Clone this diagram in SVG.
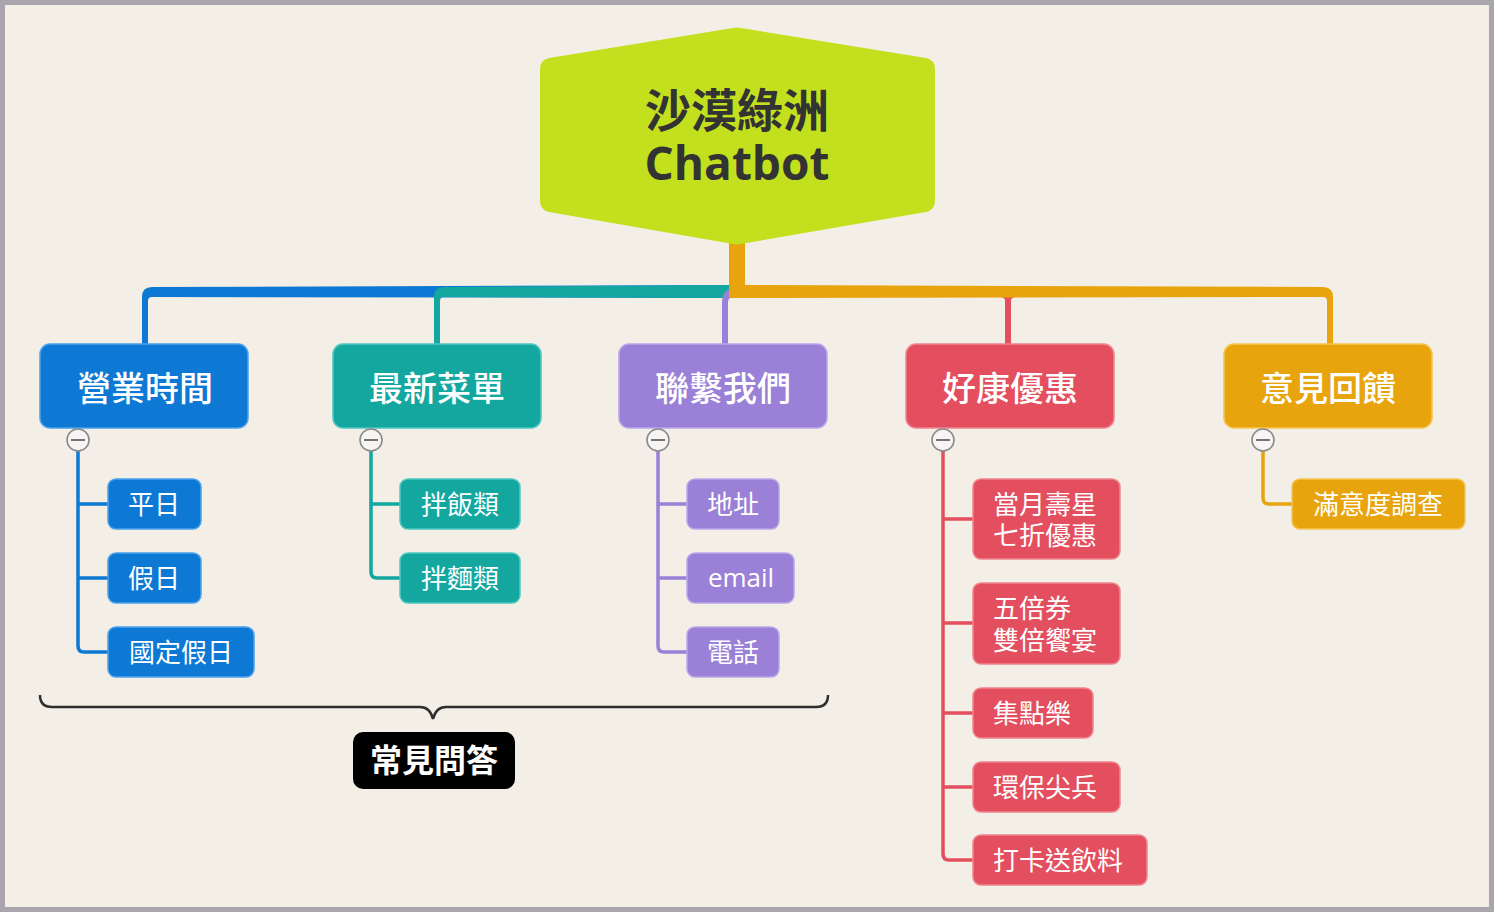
<svg xmlns="http://www.w3.org/2000/svg" width="1494" height="912" viewBox="0 0 1494 912">
<defs>
<style>
.cjk{font-family:"Noto Sans CJK TC","Noto Sans CJK SC",sans-serif;fill:#fff}
.l1{font-size:34px;text-anchor:middle;font-weight:500}
.l2{font-size:26px}
.mid{text-anchor:middle}
.blue{fill:#0d79d5;stroke:#4aa3ec;stroke-width:1.5}
.teal{fill:#14a7a0;stroke:#4ec8c1;stroke-width:1.5}
.purple{fill:#9a80d6;stroke:#b9a6ea;stroke-width:1.5}
.red{fill:#e34f5e;stroke:#f08590;stroke-width:1.5}
.orange{fill:#e8a40d;stroke:#f5c552;stroke-width:1.5}
.sub{fill:none;stroke-width:3.5;stroke-linejoin:round}
.btn circle{fill:#f6f5f3;stroke:#8a8a8f;stroke-width:1.6}
.btn line{stroke:#666;stroke-width:1.8}
</style>
</defs>
<rect x="0" y="0" width="1494" height="912" fill="#f3efe7"/>
<rect x="2.5" y="2.5" width="1489" height="907" fill="none" stroke="#aaa4ad" stroke-width="5"/>

<g id="connectors">
  <path d="M737 285 L152 287 Q142 287 142 297 L142 344 L148 344 L148 301 Q148 297 152 297 L737 298 Z" fill="#0d79d5"/>
  <path d="M737 285 L444 287 Q434 287 434 297 L434 344 L440 344 L440 301 Q440 297 444 297 L737 298 Z" fill="#14a7a0"/>
  <path d="M722 344 L722 302 Q722 292 731 288 L731 298 Q728 298 728 303 L728 344 Z" fill="#9a80d6"/>
  <path d="M1005 344 L1005 301 Q1005 297 1000 297 L1016 297 Q1011 297 1011 301 L1011 344 Z" fill="#e34f5e"/>
  <path d="M729 243 L745 243 L745 285 L1323 287 Q1333 287 1333 297 L1333 344 L1327 344 L1327 301 Q1327 297 1323 297 L729 298 Z" fill="#e8a40d"/>
  <path class="sub" stroke="#0d79d5" d="M78 451 V646 Q78 652 84 652 H108 M78 504 H108 M78 578 H108"/>
  <path class="sub" stroke="#14a7a0" d="M371 451 V572 Q371 578 377 578 H400 M371 504 H400"/>
  <path class="sub" stroke="#9a80d6" d="M658 451 V646 Q658 652 664 652 H687 M658 504 H687 M658 578 H687"/>
  <path class="sub" stroke="#e34f5e" d="M943 451 V854 Q943 860 949 860 H973 M943 519 H973 M943 623 H973 M943 713 H973 M943 787 H973"/>
  <path class="sub" stroke="#e8a40d" d="M1263 451 V498 Q1263 504 1269 504 H1292"/>
</g>

<g id="root">
  <path d="M733 28 Q737 27 741 28 L926 58 Q935 60 935 69 L935 201 Q935 210 926 212 L741 244 Q737 245 733 244 L549 212 Q540 210 540 201 L540 69 Q540 60 549 58 Z" fill="#c3e01f"/>
  <text text-anchor="middle" font-size="46" font-weight="bold" fill="#333"><tspan x="737" y="127" font-family="Noto Sans CJK TC, Noto Sans CJK SC, sans-serif">沙漠綠洲</tspan><tspan x="737" y="180" font-family="Open Sans, DejaVu Sans, sans-serif">Chatbot</tspan></text>
</g>

<g id="n-hours">
  <rect class="blue" x="40" y="344" width="208" height="84" rx="10"/>
  <text class="cjk l1" x="145" y="401">營業時間</text>
  <g class="btn"><circle cx="78" cy="440" r="11"/><line x1="71" y1="440" x2="85" y2="440"/></g>
</g>
<g id="n-weekday"><rect class="blue" x="108" y="479" width="93" height="50" rx="8"/><text class="cjk l2 mid" x="154" y="514">平日</text></g>
<g id="n-holiday"><rect class="blue" x="108" y="553" width="93" height="50" rx="8"/><text class="cjk l2 mid" x="154" y="588">假日</text></g>
<g id="n-national"><rect class="blue" x="108" y="627" width="146" height="50" rx="8"/><text class="cjk l2 mid" x="181" y="662">國定假日</text></g>

<g id="n-menu">
  <rect class="teal" x="333" y="344" width="208" height="84" rx="10"/>
  <text class="cjk l1" x="437" y="401">最新菜單</text>
  <g class="btn"><circle cx="371" cy="440" r="11"/><line x1="364" y1="440" x2="378" y2="440"/></g>
</g>
<g id="n-rice"><rect class="teal" x="400" y="479" width="120" height="50" rx="8"/><text class="cjk l2 mid" x="460" y="514">拌飯類</text></g>
<g id="n-noodle"><rect class="teal" x="400" y="553" width="120" height="50" rx="8"/><text class="cjk l2 mid" x="460" y="588">拌麵類</text></g>

<g id="n-contact">
  <rect class="purple" x="619" y="344" width="208" height="84" rx="10"/>
  <text class="cjk l1" x="723" y="401">聯繫我們</text>
  <g class="btn"><circle cx="658" cy="440" r="11"/><line x1="651" y1="440" x2="665" y2="440"/></g>
</g>
<g id="n-address"><rect class="purple" x="687" y="479" width="92" height="50" rx="8"/><text class="cjk l2 mid" x="733" y="514">地址</text></g>
<g id="n-email"><rect class="purple" x="687" y="553" width="107" height="50" rx="8"/><text x="741" y="587" text-anchor="middle" font-family="Open Sans, sans-serif" font-size="26" fill="#fff">email</text></g>
<g id="n-phone"><rect class="purple" x="687" y="627" width="92" height="50" rx="8"/><text class="cjk l2 mid" x="733" y="662">電話</text></g>

<g id="n-deals">
  <rect class="red" x="906" y="344" width="208" height="84" rx="10"/>
  <text class="cjk l1" x="1010" y="401">好康優惠</text>
  <g class="btn"><circle cx="943" cy="440" r="11"/><line x1="936" y1="440" x2="950" y2="440"/></g>
</g>
<g id="n-birthday"><rect class="red" x="973" y="479" width="147" height="80" rx="8"/><text class="cjk l2"><tspan x="993" y="514">當月壽星</tspan><tspan x="993" y="545">七折優惠</tspan></text></g>
<g id="n-voucher"><rect class="red" x="973" y="583" width="147" height="81" rx="8"/><text class="cjk l2"><tspan x="993" y="618">五倍券</tspan><tspan x="993" y="650">雙倍饗宴</tspan></text></g>
<g id="n-points"><rect class="red" x="973" y="688" width="120" height="50" rx="8"/><text class="cjk l2" x="993" y="723">集點樂</text></g>
<g id="n-eco"><rect class="red" x="973" y="762" width="147" height="50" rx="8"/><text class="cjk l2" x="993" y="797">環保尖兵</text></g>
<g id="n-checkin"><rect class="red" x="973" y="835" width="174" height="50" rx="8"/><text class="cjk l2" x="993" y="870">打卡送飲料</text></g>

<g id="n-feedback">
  <rect class="orange" x="1224" y="344" width="208" height="84" rx="10"/>
  <text class="cjk l1" x="1328" y="401">意見回饋</text>
  <g class="btn"><circle cx="1263" cy="440" r="11"/><line x1="1256" y1="440" x2="1270" y2="440"/></g>
</g>
<g id="n-survey"><rect class="orange" x="1292" y="479" width="173" height="50" rx="8"/><text class="cjk l2 mid" x="1378" y="514">滿意度調查</text></g>

<g id="faq-brace">
  <path d="M40 695 Q40 707 52 707 L420 707 Q430 707 433 719 Q436 707 446 707 L816 707 Q828 707 828 695" fill="none" stroke="#2e2e2e" stroke-width="2.5"/>
</g>
<g id="faq-label">
  <rect x="353" y="732" width="162" height="57" rx="10" fill="#000"/>
  <text x="434" y="772" text-anchor="middle" font-family="Noto Sans CJK TC, Noto Sans CJK SC, sans-serif" font-size="32" font-weight="bold" fill="#fff">常見問答</text>
</g>
</svg>
